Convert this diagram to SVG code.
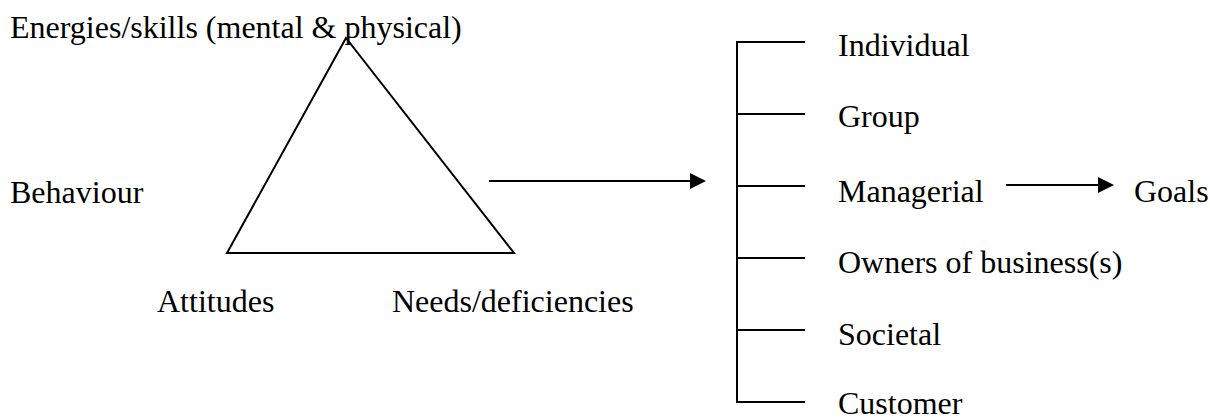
<svg xmlns="http://www.w3.org/2000/svg" width="1210" height="418" viewBox="0 0 1210 418">
<style>
text{font-family:"Liberation Serif","Times New Roman",serif;font-size:32px;fill:#000}
.ln{stroke:#000;stroke-width:2;fill:none}
.ah{fill:#000}
</style>
<rect width="1210" height="418" fill="#fff"/>
<g id="triangle">
<polygon class="ln" points="346,38 227,253 514,253"/>
</g>
<g id="labels-left">
<text x="10" y="38">Energies/skills (mental &amp; physical)</text>
<text x="10" y="203">Behaviour</text>
<text x="157" y="312">Attitudes</text>
<text x="392" y="312">Needs/deficiencies</text>
</g>
<g id="bracket">
<path class="ln" d="M805,42H737V402H805M737,114H805M737,186H805M737,258H805M737,330H805"/>
</g>
<g id="goal-types">
<text x="838" y="56">Individual</text>
<text x="838" y="127">Group</text>
<text x="838" y="202">Managerial</text>
<text x="838" y="273">Owners of business(s)</text>
<text x="838" y="345">Societal</text>
<text x="838" y="414">Customer</text>
</g>
<g id="goals">
<text x="1134" y="202">Goals</text>
</g>
<g id="connectors">
<line class="ln" x1="489" y1="181" x2="692" y2="181"/>
<polygon class="ah" points="690,173 706,181 690,189"/>
<line class="ln" x1="1006" y1="185" x2="1100" y2="185"/>
<polygon class="ah" points="1098,177 1114,185 1098,193"/>
</g>
</svg>
